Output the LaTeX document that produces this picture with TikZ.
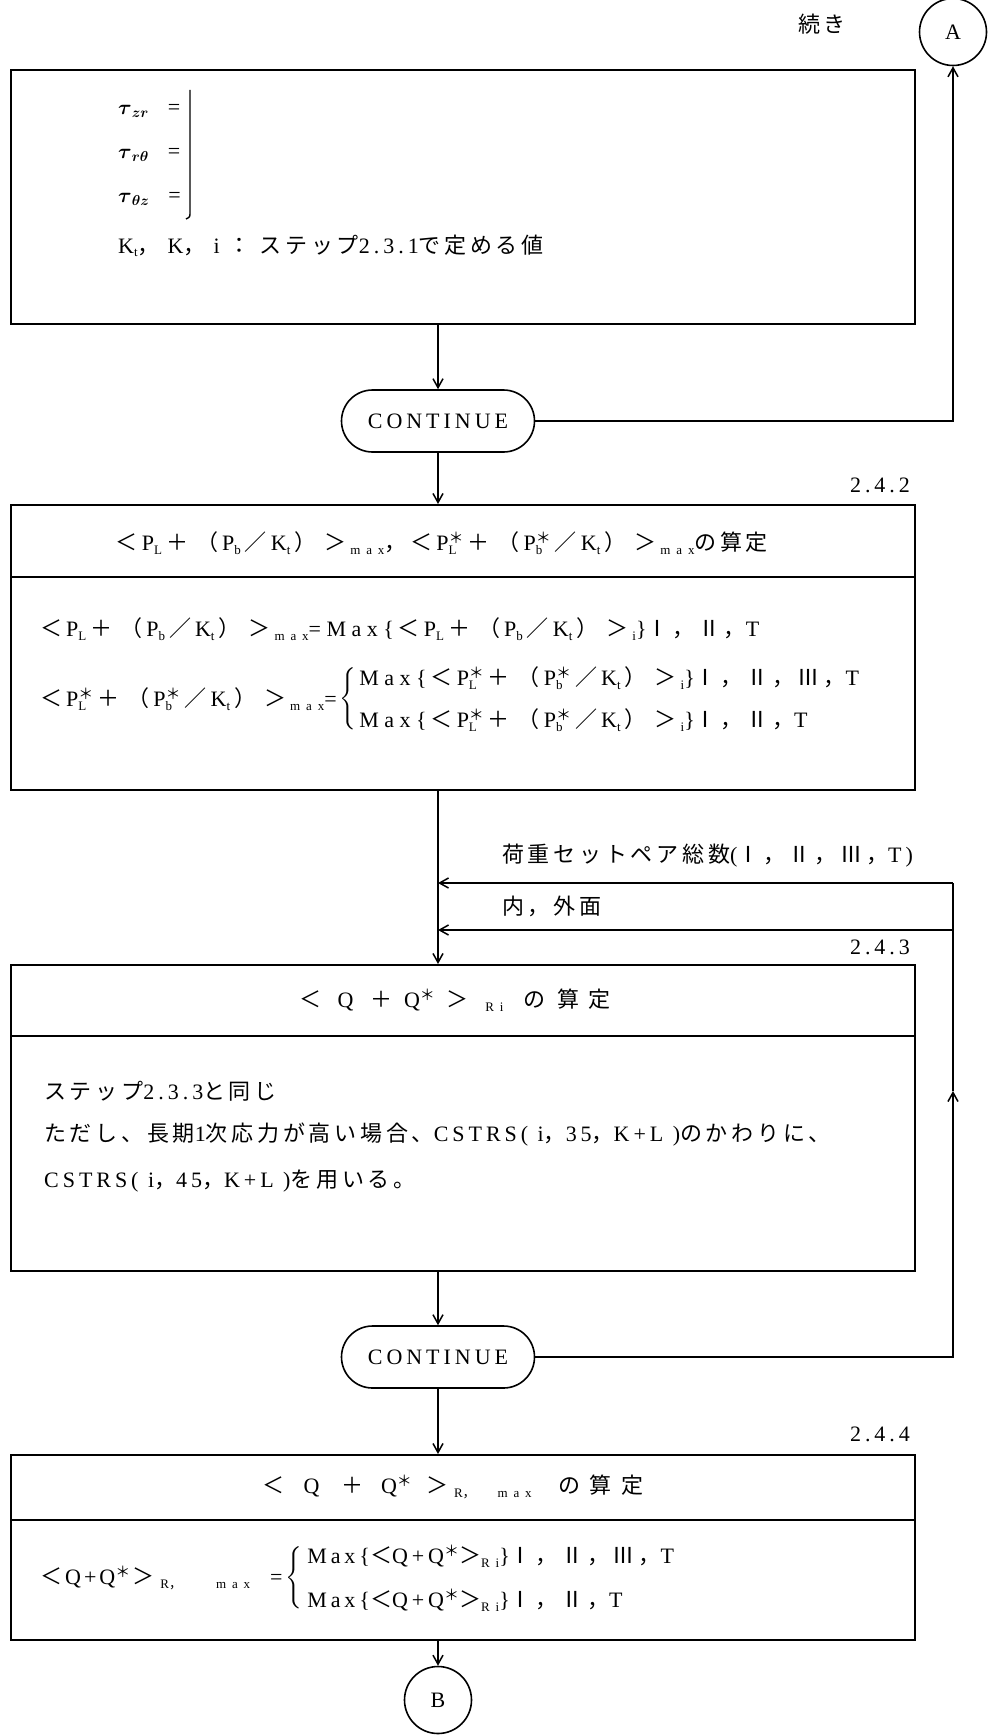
\documentclass[tikz,border=0pt]{standalone}
\usepackage{fontspec}
\usepackage{amsmath}
\setmainfont{Liberation Serif}[LetterSpace=18]
\newfontfamily\jpf{Noto Sans CJK JP}[LetterSpace=17]
\newfontfamily\jpn{Noto Sans CJK JP}
\newfontfamily\lw{Liberation Serif}[LetterSpace=25]
\newcommand\J[1]{{\jpf #1}}
\newcommand\JW[1]{\makebox[30pt][c]{\jpn #1}}
\newcommand\mb[2]{\makebox[#1pt][c]{#2}}
\newcommand\sbs[1]{\raisebox{-0.35ex}{\fontsize{13}{13}\selectfont\addfontfeature{LetterSpace=45}#1}}
\newcommand\sps[1]{\raisebox{0.7ex}{\fontsize{15}{15}\selectfont #1}}
\newcommand\qLT{\JW{＜}}
\newcommand\qGT{\JW{＞}}
\newcommand\qPL{\JW{＋}}
\newcommand\qLP{\JW{（}}
\newcommand\qRP{\JW{）}}
\newcommand\qSL{\JW{／}}
\newcommand\qST{\sps{\J{＊}}}
\newcommand\PS[2]{#1\rlap{\sbs{#2}}\qST}
\newcommand\brc{$\left\{\vrule height 25pt depth 25pt width 0pt\right.$}
\usetikzlibrary{arrows.meta}
\begin{document}
\begin{tikzpicture}[x=1pt,y=-1pt,font=\fontsize{22}{26}\selectfont,
  boxst/.style={draw,line width=2pt,minimum width=904pt,anchor=north west,inner sep=0},
  cont/.style={draw,line width=1.6pt,rounded corners=31pt,minimum width=193pt,minimum height=62pt,inner sep=0,fill=white},
  conn/.style={draw,line width=1.5pt},
  arr/.style={conn,-{Straight Barb[length=9pt,width=10pt]}},
  circ/.style={draw,circle,line width=1.6pt,minimum size=67pt,inner sep=0},
  txt/.style={anchor=west,inner sep=0},
  ftxt/.style={anchor=west,inner sep=0,font=\fontsize{22}{26}\lw},
  ctxt/.style={anchor=center,inner sep=0},
  divl/.style={line width=2pt}]
\useasboundingbox[fill=white] (0,0) rectangle (989,1736);

% helper coordinates
\coordinate (d2) at (0,577);
\coordinate (d3) at (0,1036);
\coordinate (d4) at (0,1520);
\coordinate (r1) at (953,883);
\coordinate (r2) at (953,930);
\coordinate (rm) at (953,1091);
\coordinate (y23) at (0,678);
\coordinate (y24) at (0,720);
\coordinate (y43) at (0,1556);
\coordinate (y44) at (0,1600);

% boxes
\node[boxst,minimum height=254pt] (b1) at (10,69) {};
\node[boxst,minimum height=285pt] (b2) at (10,504) {};
\node[boxst,minimum height=306pt] (b3) at (10,964) {};
\node[boxst,minimum height=185pt] (b4) at (10,1454) {};
\draw[divl] (b2.west |- d2) -- (b2.east |- d2);
\draw[divl] (b3.west |- d3) -- (b3.east |- d3);
\draw[divl] (b4.west |- d4) -- (b4.east |- d4);

% terminals
\node[cont] (c1) at (438,421) {CONTINUE};
\node[cont] (c2) at (438,1357) {CONTINUE};
\node[circ] (A) at (953,32) {A};
\node[circ] (B) at (438,1700) {B};

% labels
\node[ctxt] (lz) at (822,24) {\J{続き}};
\node[ctxt] (l2) at (880,485) {2.4.2};
\node[ctxt] (l3) at (880,947) {2.4.3};
\node[ctxt] (l4) at (880,1434) {2.4.4};
\node[txt] (ll1) at (502,856) {\J{荷重セットペア総数}(\J{Ⅰ，Ⅱ，Ⅲ，}T)};
\node[txt] (ll2) at (502,906) {\J{内，外面}};

% box 1 content
\node[txt] (t1) at (118,111) {$\boldsymbol{\tau}_{\boldsymbol{z}\boldsymbol{r}}$\ \ =};
\node[txt] (t2) at (118,155) {$\boldsymbol{\tau}_{\boldsymbol{r}\boldsymbol{\theta}}$\ \ =};
\node[txt] (t3) at (118,199) {$\boldsymbol{\tau}_{\boldsymbol{\theta}\boldsymbol{z}}$\ \ =};
\draw[line width=1.4pt] (190,90) -- (190,212) .. controls (190,217) .. (186,219);
\node[txt] (t4) at (118,246) {K\sbs{t}\J{，}\hspace{8pt}K\J{，}\hspace{8pt}i\hspace{9pt}\J{：}\hspace{9pt}\J{ステップ}2.3.1\J{で定める値}};

% box 2 content
\node[ftxt,anchor=center] (h2) at (440,543) {\qLT P\sbs{L}\qPL\qLP P\sbs{b}\qSL K\sbs{t}\qRP\qGT\sbs{max}\J{，}\qLT\PS{P}{L}\qPL\qLP\PS{P}{b}\qSL K\sbs{t}\qRP\qGT\sbs{max}\J{の算定}};
\node[ftxt] (e1) at (36,629) {\qLT P\sbs{L}\qPL\qLP P\sbs{b}\qSL K\sbs{t}\qRP\qGT\sbs{max}=Max\{\qLT P\sbs{L}\qPL\qLP P\sbs{b}\qSL K\sbs{t}\qRP\qGT\sbs{i}\}\J{Ⅰ，Ⅱ，}T};
\node[ftxt] (e2) at (36,699) {\qLT\PS{P}{L}\qPL\qLP\PS{P}{b}\qSL K\sbs{t}\qRP\qGT\sbs{max}=};
\node[txt] (e2b) at ([xshift=2pt]e2.east) {\brc};
\node[ftxt] (e3) at ([xshift=2pt]e2b.east |- y23) {Max\{\qLT\PS{P}{L}\qPL\qLP\PS{P}{b}\qSL K\sbs{t}\qRP\qGT\sbs{i}\}\J{Ⅰ，Ⅱ，Ⅲ，}T};
\node[ftxt] (e4) at ([xshift=2pt]e2b.east |- y24) {Max\{\qLT\PS{P}{L}\qPL\qLP\PS{P}{b}\qSL K\sbs{t}\qRP\qGT\sbs{i}\}\J{Ⅰ，Ⅱ，}T};

% box 3 content
\node[ctxt] (h3) at (454,1000) {\mb{34}{\J{＜}}\mb{37}{Q}\mb{35}{\J{＋}}\mb{41}{Q\qST}\mb{34}{\J{＞}}\mb{41}{\sbs{Ri}}\mb{38}{\J{の}}\mb{31}{\J{算}}\mb{31}{\J{定}}};
\node[txt] (f1) at (44,1091) {\J{ステップ}2.3.3\J{と同じ}};
\node[txt] (f2) at (44,1135) {\J{ただし、長期}1\J{次応力が高い場合、}CSTRS( i\J{，}35\J{，}K+L )\J{のかわりに、}};
\node[txt] (f3) at (44,1181) {CSTRS( i\J{，}45\J{，}K+L )\J{を用いる。}};

% box 4 content
\node[ctxt] (h4) at (452,1487) {\mb{35}{\J{＜}}\mb{41}{Q}\mb{41}{\J{＋}}\mb{47}{Q\qST}\mb{34}{\J{＞}}\makebox[100pt][l]{\sbs{R\J{，}\hspace{22pt}max}}\mb{31}{\J{の}}\mb{32}{\J{算}}\mb{31}{\J{定}}};
\node[txt] (g1) at (40,1578) {\J{＜}\hspace{3pt}Q\hspace{3pt}+\hspace{3pt}Q\qST\hspace{2pt}\J{＞}\hspace{6pt}\sbs{R\J{，}\hspace{34pt}max}\hspace{20pt}=};
\node[txt] (g1b) at ([xshift=3pt]g1.east) {\brc};
\node[txt] (g2) at ([xshift=3pt]g1b.east |- y43) {Max\{\J{＜}Q+Q\qST\J{＞}\sbs{Ri}\}\J{Ⅰ，Ⅱ，Ⅲ，}T};
\node[txt] (g3) at ([xshift=3pt]g1b.east |- y44) {Max\{\J{＜}Q+Q\qST\J{＞}\sbs{Ri}\}\J{Ⅰ，Ⅱ，}T};

% connectors
\draw[arr] (c1.north |- b1.south) -- (c1.north);
\draw[arr] (c1.east) -| (A.south);
\draw[arr] (c1.south) -- (c1.south |- b2.north);
\draw[arr] (c1.south |- b2.south) -- (c1.south |- b3.north);
\draw[arr] (c2.north |- b3.south) -- (c2.north);
\draw[arr] (c2.south) -- (c2.south |- b4.north);
\draw[arr] (B.north |- b4.south) -- (B.north);
\draw[arr] (c2.east) -| (rm);
\draw[conn] (rm) -- (r1);
\draw[arr] (r1) -- (r1 -| c1.south);
\draw[arr] (r2) -- (r2 -| c1.south);
\end{tikzpicture}
\end{document}
